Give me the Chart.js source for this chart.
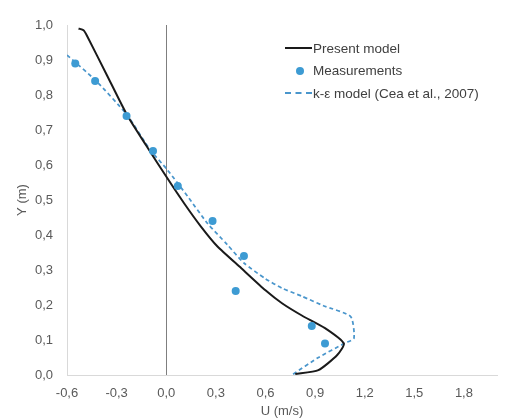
<!DOCTYPE html>
<html>
<head>
<meta charset="utf-8">
<title>U (m/s) vs Y (m)</title>
<script src="https://cdn.jsdelivr.net/npm/chart.js@4"></script>
<style>
  html, body { margin: 0; padding: 0; background: #fff; }
  #wrap { position: relative; width: 516px; height: 418px; }
  #legend {
    position: absolute; left: 285px; top: 37px;
    font: 13.5px "Liberation Sans", Arial, sans-serif; color: #404040;
  }
  .item { display: flex; align-items: center; height: 22.5px; white-space: nowrap; }
  .swatch { width: 27px; height: 10px; position: relative; margin-right: 1px; }
  .swatch.solid::after, .swatch.dash::after {
    content: ''; position: absolute; left: 0; right: 0; top: 4px;
  }
  .swatch.solid::after { border-top: 2px solid #1a1a1a; }
  .swatch.dash::after  { border-top: 2px dashed #4a96cc; }
  .swatch.dot::after {
    content: ''; position: absolute; left: 11px; top: 1px;
    width: 8px; height: 8px; border-radius: 50%; background: #3d9bd3;
  }
</style>
</head>
<body>
<div id="wrap">
  <canvas id="chart" width="516" height="418"></canvas>
  <div id="legend">
    <div class="item"><span class="swatch solid"></span>Present model</div>
    <div class="item"><span class="swatch dot"></span>Measurements</div>
    <div class="item"><span class="swatch dash"></span>k-ε model (Cea et al., 2007)</div>
  </div>
</div>
<script>
(function () {
  'use strict';

  // ── Data ────────────────────────────────────────────────────────────────────
  const presentU = [-0.53, -0.50, -0.48, -0.36, -0.237, -0.12, 0.0, 0.109, 0.21, 0.31, 0.454, 0.60, 0.70, 0.82, 0.96, 1.074, 1.034, 0.92, 0.78];
  const presentY = [0.99, 0.985, 0.97, 0.858, 0.743, 0.655, 0.567, 0.49, 0.424, 0.367, 0.305, 0.242, 0.205, 0.17, 0.134, 0.09, 0.057, 0.014, 0.003];

  const measU = [-0.55, -0.43, -0.24, -0.08, 0.07, 0.28, 0.47, 0.42, 0.88, 0.96];
  const measY = [0.89, 0.84, 0.74, 0.64, 0.54, 0.44, 0.34, 0.24, 0.14, 0.09];

  const keU = [-0.60, -0.43, -0.237, -0.10, 0.007, 0.13, 0.25, 0.37, 0.47, 0.60, 0.70, 0.82, 0.95, 1.115, 1.135, 1.08, 0.92, 0.76];
  const keY = [0.914, 0.843, 0.743, 0.645, 0.586, 0.51, 0.433, 0.372, 0.32, 0.275, 0.248, 0.225, 0.198, 0.167, 0.105, 0.091, 0.05, 0.0];

  const xTicks = [-0.6, -0.3, 0.0, 0.3, 0.6, 0.9, 1.2, 1.5, 1.8];
  const yTicks = [0.0, 0.1, 0.2, 0.3, 0.4, 0.5, 0.6, 0.7, 0.8, 0.9, 1.0];

  const pairs = (xs, ys) => xs.map((x, i) => ({ x: x, y: ys[i] }));
  const fmt   = v => v.toFixed(1).replace('.', ',');

  const tickFont = { family: '"Liberation Sans", Arial, sans-serif', size: 13 };
  const grey     = '#595959';

  // ── Chart ───────────────────────────────────────────────────────────────────
  new Chart(document.getElementById('chart'), {
    type: 'scatter',
    data: {
      datasets: [
        {
          label: 'Measurements',
          data: pairs(measU, measY),
          backgroundColor: '#3d9bd3',
          borderWidth: 0,
          pointRadius: 4,
          order: 0
        },
        {
          label: 'Present model',
          data: pairs(presentU, presentY),
          showLine: true,
          borderColor: '#1a1a1a',
          borderWidth: 2,
          pointRadius: 0,
          tension: 0.2,
          order: 1
        },
        {
          label: 'k-ε model (Cea et al., 2007)',
          data: pairs(keU, keY),
          showLine: true,
          borderColor: '#4a96cc',
          borderWidth: 1.75,
          borderDash: [4, 3],
          pointRadius: 0,
          tension: 0.2,
          order: 2
        }
      ]
    },
    options: {
      responsive: false,
      animation: false,
      layout: { padding: { top: 25, right: 19, bottom: 0, left: 0 } },
      plugins: { legend: { display: false }, tooltip: { enabled: false } },
      scales: {
        x: {
          type: 'linear',
          min: -0.6,
          max: 2.0,
          afterBuildTicks: s => { s.ticks = xTicks.map(v => ({ value: v })); },
          afterFit: s => { s.height = 43; },
          ticks: { color: grey, font: tickFont, padding: 11, callback: v => fmt(v) },
          grid: {
            drawTicks: false,
            color: c => (c.tick && c.tick.value === 0 ? '#7f7f7f' : 'rgba(0,0,0,0)'),
            lineWidth: 1
          },
          border: { display: true, color: '#d9d9d9' },
          title: {
            display: true, text: 'U (m/s)', color: grey,
            font: Object.assign({}, tickFont, { lineHeight: 1 }),
            padding: { top: 0, bottom: 0 }
          }
        },
        y: {
          type: 'linear',
          min: 0,
          max: 1.0,
          afterBuildTicks: s => { s.ticks = yTicks.map(v => ({ value: v })); },
          afterFit: s => { s.width = 67; },
          ticks: { color: grey, font: tickFont, padding: 14, callback: v => fmt(v) },
          grid: { drawTicks: false, color: 'rgba(0,0,0,0)' },
          border: { display: true, color: '#d9d9d9' },
          title: {
            display: true, text: 'Y (m)', color: grey,
            font: Object.assign({}, tickFont, { lineHeight: 1 }),
            padding: { top: 16, bottom: 0 }
          }
        }
      }
    }
  });
})();
</script>
</body>
</html>
